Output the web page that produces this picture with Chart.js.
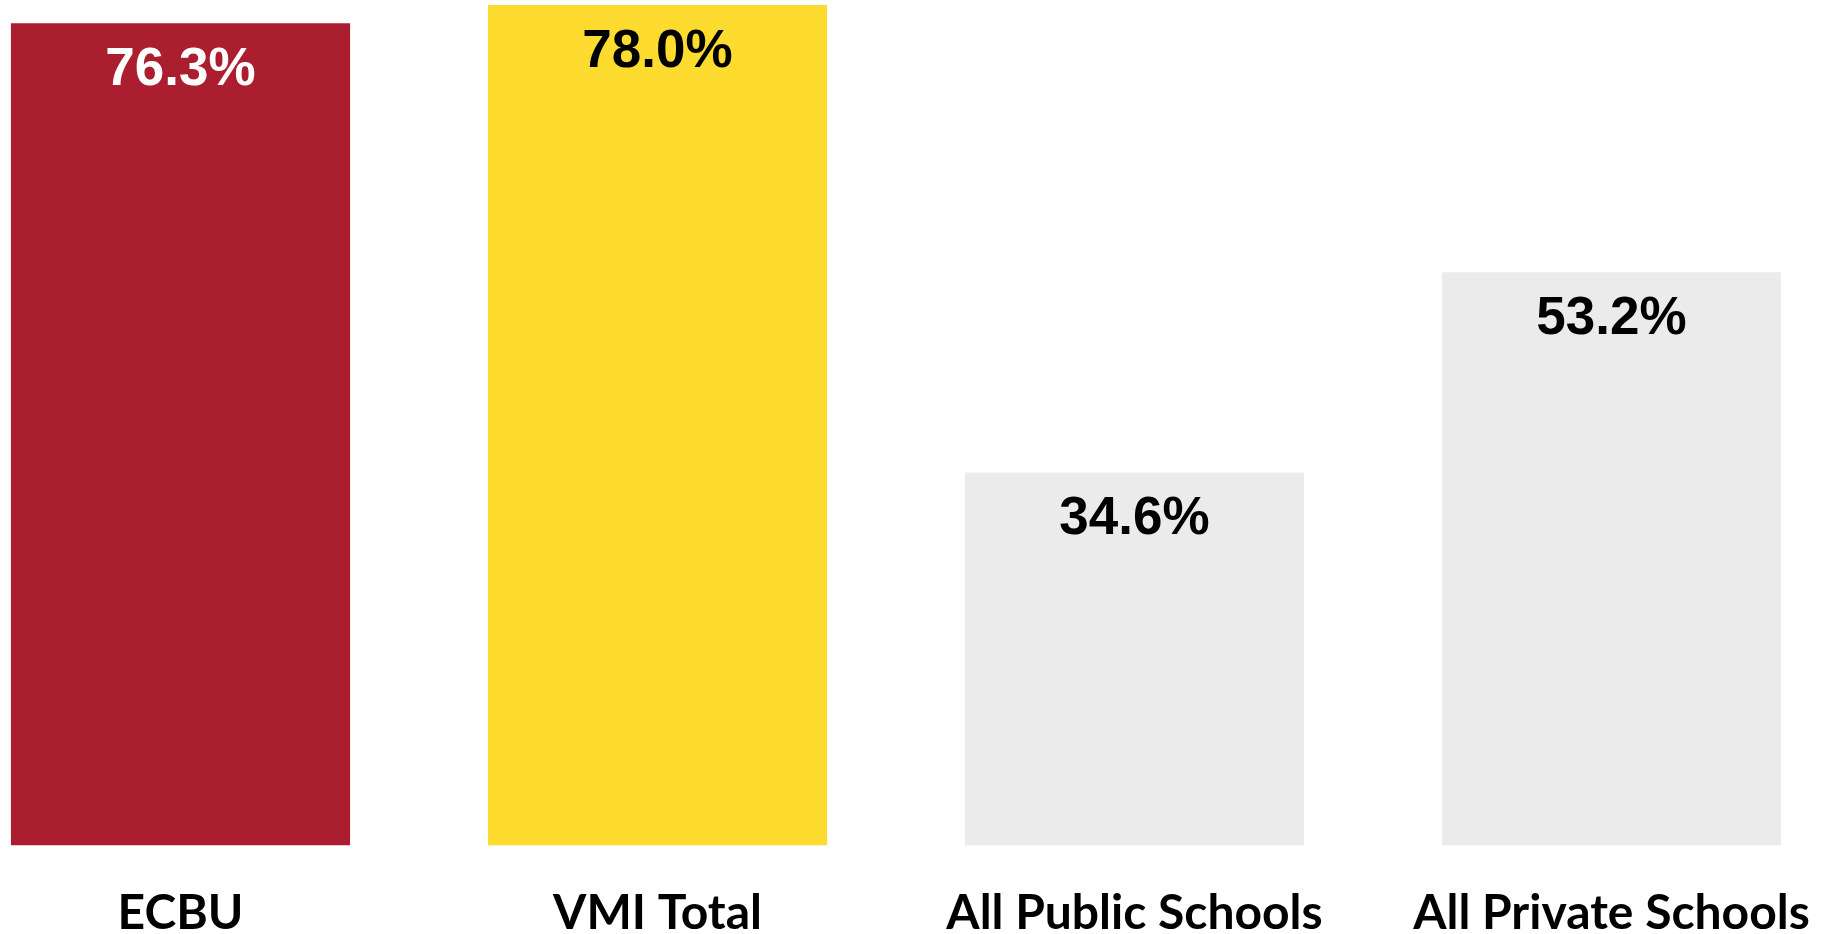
<!DOCTYPE html>
<html>
<head>
<meta charset="utf-8">
<script src="https://cdn.jsdelivr.net/npm/chart.js@4/dist/chart.umd.min.js"></script>
<style>
  html, body { margin: 0; padding: 0; background: #fff; overflow: hidden; }
  #wrap { position: absolute; left: -58px; top: 0; width: 1908px; height: 981px; }
</style>
</head>
<body>
<div id="wrap"><canvas id="rateChart"></canvas></div>
<script>
const categories = ['ECBU', 'VMI Total', 'All Public Schools', 'All Private Schools'];
const rates = [76.3, 78.0, 34.6, 53.2];
const barColors = ['#AA1E2F', '#FEDC2F', '#EBEBEB', '#EBEBEB'];
const labelColors = ['#FFFFFF', '#000000', '#000000', '#000000'];

const valueLabels = {
    id: 'valueLabels',
    afterDatasetsDraw(chart) {
        const ctx = chart.ctx;
        const meta = chart.getDatasetMeta(0);
        ctx.save();
        ctx.font = 'bold 53px "Liberation Sans", Arial, sans-serif';
        ctx.textAlign = 'center';
        ctx.textBaseline = 'middle';
        meta.data.forEach((bar, i) => {
            ctx.fillStyle = labelColors[i];
            ctx.fillText(rates[i].toFixed(1) + '%', bar.x, bar.y + 47);
        });
        ctx.restore();
    }
};

new Chart(document.getElementById('rateChart').getContext('2d'), {
    type: 'bar',
    data: {
        labels: categories,
        datasets: [{
            data: rates,
            backgroundColor: barColors,
            borderWidth: 0,
            categoryPercentage: 1,
            barPercentage: 0.711
        }]
    },
    options: {
        responsive: true,
        maintainAspectRatio: false,
        animation: false,
        layout: { padding: { top: 5, left: 0, right: 0, bottom: 0 } },
        plugins: { legend: { display: false }, tooltip: { enabled: false } },
        scales: {
            x: {
                grid: { display: false, drawTicks: false },
                border: { display: false },
                ticks: {
                    color: '#000',
                    padding: 39,
                    maxRotation: 0,
                    autoSkip: false,
                    font: { family: 'Lato, "Open Sans", sans-serif', weight: 'bold', size: 48 }
                }
            },
            y: {
                display: false,
                min: 0,
                max: 78
            }
        }
    },
    plugins: [valueLabels]
});
</script>
</body>
</html>
